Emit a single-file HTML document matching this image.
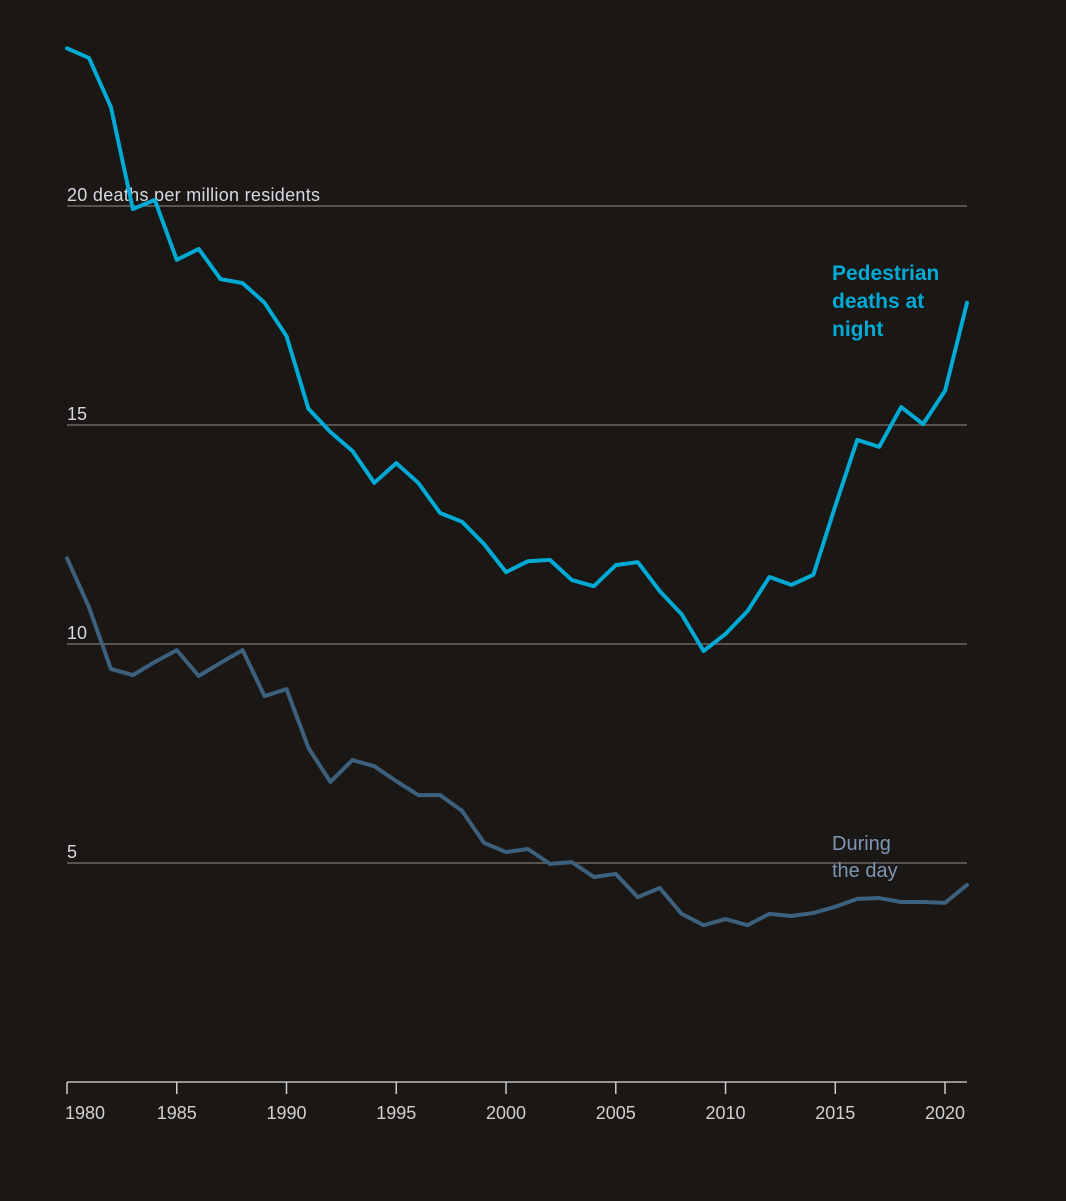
<!DOCTYPE html>
<html><head><meta charset="utf-8"><style>
body{margin:0;background:#1a1715;}
svg{display:block;font-family:"Liberation Sans",sans-serif;}
</style></head><body>
<svg width="1066" height="1201">
<rect width="1066" height="1201" fill="#1a1715"/>
<g id="grid"></g><g id="axis"></g><g id="lines"></g>
<text x="832" y="280" fill="#00aad4" font-weight="bold" font-size="21"><tspan x="832">Pedestrian</tspan><tspan x="832" dy="28">deaths at</tspan><tspan x="832" dy="28">night</tspan></text>
<text x="832" y="850" fill="#7d97b3" font-size="20"><tspan x="832">During</tspan><tspan x="832" dy="27">the day</tspan></text>
</svg>
<script>
const years=[];for(let y=1980;y<=2021;y++)years.push(y);
const night=[23.6,23.38,22.26,19.93,20.14,18.77,19.02,18.33,18.24,17.79,17.03,15.37,14.84,14.41,13.68,14.13,13.68,12.99,12.79,12.28,11.64,11.89,11.92,11.46,11.32,11.80,11.87,11.21,10.68,9.84,10.23,10.75,11.53,11.35,11.58,13.15,14.66,14.50,15.41,15.02,15.78,17.79];
const day=[11.96,10.84,9.43,9.29,9.59,9.86,9.27,9.57,9.86,8.81,8.97,7.63,6.85,7.35,7.21,6.87,6.55,6.55,6.19,5.46,5.25,5.32,4.98,5.02,4.68,4.75,4.22,4.43,3.84,3.58,3.72,3.58,3.84,3.79,3.86,4.00,4.18,4.20,4.11,4.11,4.09,4.50];
const yTicks=[5,10,15,20];
const yLabels=["5","10","15","20 deaths per million residents"];
const xTicks=[1980,1985,1990,1995,2000,2005,2010,2015,2020];
const NS="http://www.w3.org/2000/svg";
const X=y=>67+(y-1980)*900/41, Y=v=>1082-v*43.8;
function mk(t,a,p){const e=document.createElementNS(NS,t);for(const k in a)e.setAttribute(k,a[k]);p.appendChild(e);return e;}
const g=document.getElementById('grid'),ax=document.getElementById('axis'),L=document.getElementById('lines');
yTicks.forEach((v,i)=>{
 const l=mk('line',{x1:67,x2:967,y1:Y(v),y2:Y(v),stroke:'#6a6663','stroke-width':1.5},g);
 
 
 const t=mk('text',{x:67,y:Y(v)-5,fill:'#d8d8e4','font-size':18,'textLength':i==3?253:null},g);t.textContent=yLabels[i];
 if(i!=3)t.removeAttribute('textLength');
 
 
});
const base=mk('line',{x1:67,x2:967,y1:1082,y2:1082,stroke:'#bbb','stroke-width':1.5},ax);


xTicks.forEach((yr,i)=>{
 mk('line',{x1:X(yr),x2:X(yr),y1:1082,y2:1094,stroke:'#ccc','stroke-width':1.5},ax);
 const t=mk('text',{x:i==0?X(yr)-2:X(yr),y:1119,fill:'#d0d0d0','font-size':18,'text-anchor':i==0?'start':'middle'},ax);t.textContent=yr;
 
 
});
function line(arr,col,name){
 const p=mk('polyline',{points:arr.map((v,i)=>X(years[i])+','+Y(v)).join(' '),fill:'none',stroke:col,'stroke-width':4,'stroke-linejoin':'round','stroke-linecap':'round'},L);
 
 
}
line(day,'#3d607d','day-line');
line(night,'#00aad4','night-line');
</script>
</body></html>
